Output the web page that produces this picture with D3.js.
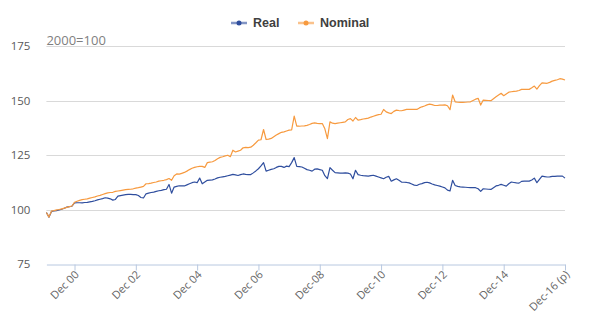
<!DOCTYPE html>
<html>
<head>
<meta charset="utf-8">
<script src="https://cdn.jsdelivr.net/npm/d3@7/dist/d3.min.js"></script>
<style>
  html, body { margin: 0; padding: 0; background: #ffffff; }
  svg { display: block; font-family: "Liberation Sans", Arial, sans-serif; }
</style>
</head>
<body>
<svg id="chart" width="600" height="336"></svg>
<script>
// Monthly index values, Jan 2000 to Dec 2016 (2000 = 100)
const realIndex = [
  98.6, 96.5, 99.1, 99.3, 99.5, 99.8, 100.1, 100.6, 101.1, 101.3, 101.5, 103.0,
  103.1, 103.1, 103.0, 103.2, 103.3, 103.5, 103.7, 104.0, 104.4, 104.7, 105.0, 105.4,
  105.2, 104.9, 104.3, 104.6, 106.1, 106.4, 106.6, 106.8, 106.9, 106.9, 106.8, 106.8,
  106.4, 105.5, 105.3, 107.2, 107.5, 107.8, 108.0, 108.3, 108.6, 108.8, 109.1, 109.3,
  111.5, 107.5, 110.3, 110.6, 110.9, 110.8, 110.8, 111.3, 111.8, 112.3, 112.6, 112.3,
  114.4, 111.8, 112.6, 113.4, 113.5, 113.6, 114.0, 114.5, 114.8, 115.0, 115.2, 115.5,
  115.8, 116.1, 115.9, 115.6, 116.0, 116.3, 116.1, 116.0, 116.0, 116.8, 117.7, 118.7,
  120.0, 121.5, 117.6, 118.0, 118.4, 118.7, 119.3, 119.8, 119.8, 119.3, 119.9, 119.7,
  121.5, 123.8, 119.8, 119.7, 119.5, 118.9, 118.3, 118.0, 117.6, 118.5, 118.6, 118.3,
  118.0, 115.5, 114.2, 119.2, 118.0, 116.9, 116.8, 116.7, 116.7, 116.8, 116.7, 116.3,
  114.1, 118.0, 116.0, 115.7, 115.5, 115.4, 115.3, 115.5, 115.7, 115.3, 114.9, 114.5,
  114.1, 114.8, 115.2, 113.0, 113.6, 114.1, 113.4, 112.6, 112.5, 112.4, 112.2, 111.7,
  111.2, 111.0, 111.6, 111.9, 112.3, 112.5, 112.2, 111.7, 111.3, 111.0, 110.7, 110.3,
  109.9, 108.9, 108.5, 113.4, 111.0, 110.6, 110.4, 110.3, 110.2, 110.1, 110.0, 110.0,
  110.0, 109.5, 108.3, 109.5, 109.4, 109.3, 109.2, 110.0, 110.8, 111.1, 111.5, 111.1,
  110.7, 111.8, 112.6, 112.4, 112.2, 112.1, 112.9, 113.0, 113.0, 113.0, 113.5, 114.4,
  112.3, 113.8, 115.3, 115.1, 114.9, 115.0, 115.2, 115.2, 115.3, 115.3, 115.3, 114.4
];

const nominalIndex = [
  98.6, 96.5, 99.3, 99.5, 99.8, 100.0, 100.3, 100.6, 101.0, 101.3, 101.6, 103.3,
  103.8, 104.2, 104.5, 104.7, 104.9, 105.2, 105.5, 105.8, 106.2, 106.5, 106.9, 107.3,
  107.6, 107.8, 107.9, 108.3, 108.5, 108.7, 108.9, 109.1, 109.2, 109.3, 109.5, 109.8,
  110.0, 110.3, 110.6, 111.8, 111.9, 112.1, 112.4, 112.6, 113.0, 113.2, 113.4, 113.7,
  114.2, 113.4, 115.5, 116.3, 116.2, 116.6, 117.0, 117.6, 118.3, 118.9, 119.3, 119.6,
  119.8, 119.8, 119.3, 121.5, 121.7, 121.9, 122.5, 123.3, 123.9, 124.2, 124.6, 124.9,
  124.2, 127.2, 126.4, 126.8, 127.2, 128.3, 128.5, 128.4, 128.6, 129.5, 130.6, 131.8,
  132.0, 136.7, 132.1, 132.3, 132.6, 133.4, 134.2, 134.8, 135.4, 135.6, 136.0, 136.4,
  136.5, 142.8, 138.2, 138.2, 138.3, 138.4, 138.6, 139.0, 139.5, 139.7, 139.5, 139.4,
  139.4, 137.0, 132.5, 140.2, 139.6, 139.4, 139.6, 139.8, 140.0, 140.2, 141.3, 141.7,
  140.6, 142.2, 141.0, 141.2, 141.5, 141.7, 141.9, 142.4, 142.8, 143.2, 143.5, 143.7,
  145.9, 144.8, 144.3, 144.0, 145.0, 145.6, 145.4, 145.3, 145.6, 145.9, 145.9, 145.9,
  145.9, 145.9, 146.6, 147.1, 147.5, 148.0, 148.3, 148.1, 147.7, 147.7, 147.9, 147.9,
  148.0, 147.6, 145.8, 152.5, 149.4, 149.2, 149.1, 149.1, 149.2, 149.3, 149.4, 150.0,
  150.6, 151.0, 147.9, 150.2, 150.1, 150.0, 149.9, 150.8, 151.7, 152.5, 153.3, 152.2,
  153.0, 153.8, 154.0, 154.2, 154.3, 154.6, 155.1, 155.1, 155.1, 155.1, 155.8, 156.6,
  155.2, 156.8, 158.1, 158.0, 157.9, 158.3, 158.9, 159.2, 159.5, 160.0, 159.8, 159.4
];

// Axis labels: tick at every second December
const tickMonths = [11, 35, 59, 83, 107, 131, 155, 179, 203];
const tickLabels = ["Dec 00", "Dec 02", "Dec 04", "Dec 06", "Dec-08", "Dec-10", "Dec-12", "Dec-14", "Dec-16 (p)"];
const yTicks = [75, 100, 125, 150, 175];

const seriesList = [
  { name: "Real", values: realIndex, color: "#2f4e9e" },
  { name: "Nominal", values: nominalIndex, color: "#f79a3f" }
];

const svg = d3.select("#chart");
const margin = { left: 46.4, right: 35, top: 46, bottom: 72 };
const width = 600, height = 336;

const x = d3.scaleLinear()
  .domain([0, realIndex.length - 1])
  .range([margin.left, width - margin.right]);

const y = d3.scaleLinear()
  .domain([75, 175])
  .range([height - margin.bottom, margin.top]);

// Horizontal gridlines
svg.append("g")
  .selectAll("line")
  .data(yTicks.slice(1))
  .join("line")
  .attr("x1", margin.left)
  .attr("x2", width - margin.right)
  .attr("y1", d => Math.round(y(d)) + 0.5)
  .attr("y2", d => Math.round(y(d)) + 0.5)
  .attr("stroke", "#d9d9d9")
  .attr("stroke-width", 1);

// Y axis labels
const yAxis = d3.axisLeft(y).tickValues(yTicks).tickSize(0).tickPadding(0);
const gy = svg.append("g")
  .attr("transform", `translate(${margin.left - 16},0)`)
  .call(yAxis);
gy.select(".domain").remove();
gy.selectAll("text")
  .attr("fill", "#595959")
  .style("font-size", "11.5px")
  .style("font-family", "'Open Sans', 'DejaVu Sans', sans-serif");

// X axis with ticks at the December positions
const xAxis = d3.axisBottom(x)
  .tickValues(tickMonths)
  .tickFormat((d, i) => tickLabels[i])
  .tickSize(6)
  .tickSizeOuter(0);
const gx = svg.append("g")
  .attr("transform", `translate(0,${Math.round(y(75)) + 0.5})`)
  .call(xAxis);
gx.select(".domain").attr("stroke", "#b8c8e0");
gx.selectAll(".tick line").attr("stroke", "#b8c8e0");
gx.selectAll("text")
  .attr("fill", "#666666")
  .style("font-size", "11px")
  .style("font-family", "'Open Sans', 'DejaVu Sans', sans-serif")
  .attr("text-anchor", "end")
  .attr("transform", "translate(2,8) rotate(-45)")
  .attr("x", 0)
  .attr("y", 0)
  .attr("dy", "0.35em");

// Lines
const line = d3.line()
  .x((d, i) => x(i))
  .y(d => y(d));

svg.append("g")
  .selectAll("path")
  .data(seriesList)
  .join("path")
  .attr("d", d => line(d.values))
  .attr("fill", "none")
  .attr("stroke", d => d.color)
  .attr("stroke-width", 1.2)
  .attr("stroke-linejoin", "round");

// Base label
svg.append("text")
  .attr("x", margin.left)
  .attr("y", 45)
  .attr("fill", "#7f7f7f")
  .style("font-size", "13px")
  .style("font-family", "'Open Sans', 'DejaVu Sans', sans-serif")
  .text("2000=100");

// Legend
const legendItems = [
  { name: "Real", color: "#2f4e9e", x: 231 },
  { name: "Nominal", color: "#f79a3f", x: 298 }
];
const lg = svg.append("g").selectAll("g")
  .data(legendItems)
  .join("g")
  .attr("transform", d => `translate(${d.x},23)`);
lg.append("line")
  .attr("x1", 0).attr("x2", 16)
  .attr("y1", 0).attr("y2", 0)
  .attr("stroke", d => d.color)
  .attr("stroke-opacity", 0.6)
  .attr("stroke-width", 2.5);
lg.append("circle")
  .attr("cx", 8).attr("cy", 0).attr("r", 2.5)
  .attr("fill", d => d.color);
lg.append("text")
  .attr("x", 22)
  .attr("y", 0)
  .attr("dy", "0.35em")
  .attr("fill", "#404040")
  .style("font-size", "12.5px")
  .style("font-weight", "bold")
  .text(d => d.name);
</script>
</body>
</html>
